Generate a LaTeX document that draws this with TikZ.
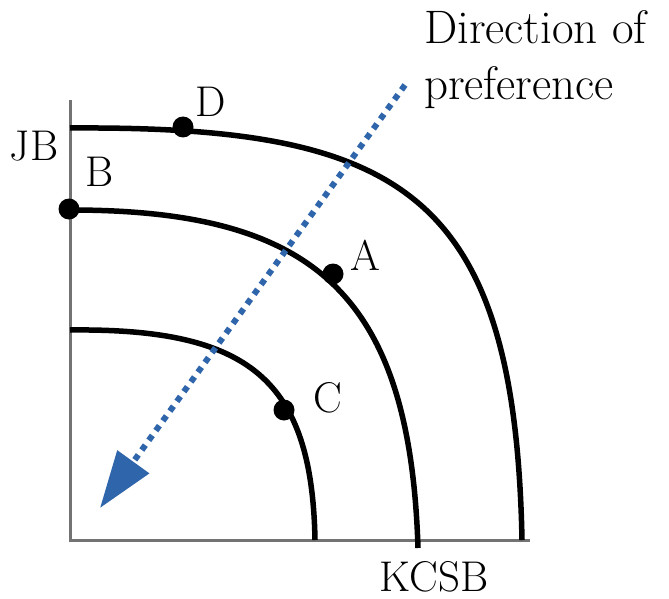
\documentclass[tikz,border=0pt]{standalone}
\usetikzlibrary{arrows.meta}
\definecolor{prefblue}{RGB}{47,101,170}
\begin{document}
\begin{tikzpicture}[x=1pt, y=-1pt, >=stealth,
    lbl/.style={font=\fontsize{43}{56}\selectfont, inner sep=0pt},
    curve/.style={line width=5.5pt},
    pt/.style={circle, fill=black, inner sep=0pt, minimum size=21pt}]
  \useasboundingbox (0,0) rectangle (669,599);
  % axes
  \coordinate (O) at (70,540);
  \draw[gray!90!black, line width=3pt] (70,100) -- (O) -- (530,540);
  % curves
  \draw[curve] (70,128) .. controls (400,126) and (515,190) .. (522,540);
  \draw[curve] (70,210) .. controls (310,210) and (410,290) .. (418,548);
  \draw[curve] (70,330) .. controls (250,328) and (312,380) .. (315,540);
  % direction of preference
  \coordinate (P1) at (405,85);
  \coordinate (P2) at (100,508);
  \draw[prefblue, line width=6pt, dash pattern=on 6pt off 6pt,
    -{Triangle[length=57pt, width=38pt]}] (P1) -- (P2);
  % points
  \node[pt] (D) at (183,127) {};
  \node[pt] (B) at (69,209) {};
  \node[pt] (A) at (333,274) {};
  \node[pt] (C) at (284,410) {};
  \node[lbl] (Dl) at (211,102) {D};
  \node[lbl] (Bl) at (100,172) {B};
  \node[lbl] (Al) at (365,255) {A};
  \node[lbl] (Cl) at (328,398) {C};
  \node[lbl] (JB) at (34,146) {JB};
  \node[lbl] (KCSB) at (434,577) {KCSB};
  \node[lbl, font=\fontsize{47}{56}\selectfont, align=left, anchor=north west]
    (pref) at (424,10) {Direction of\\preference};
\end{tikzpicture}
\end{document}
